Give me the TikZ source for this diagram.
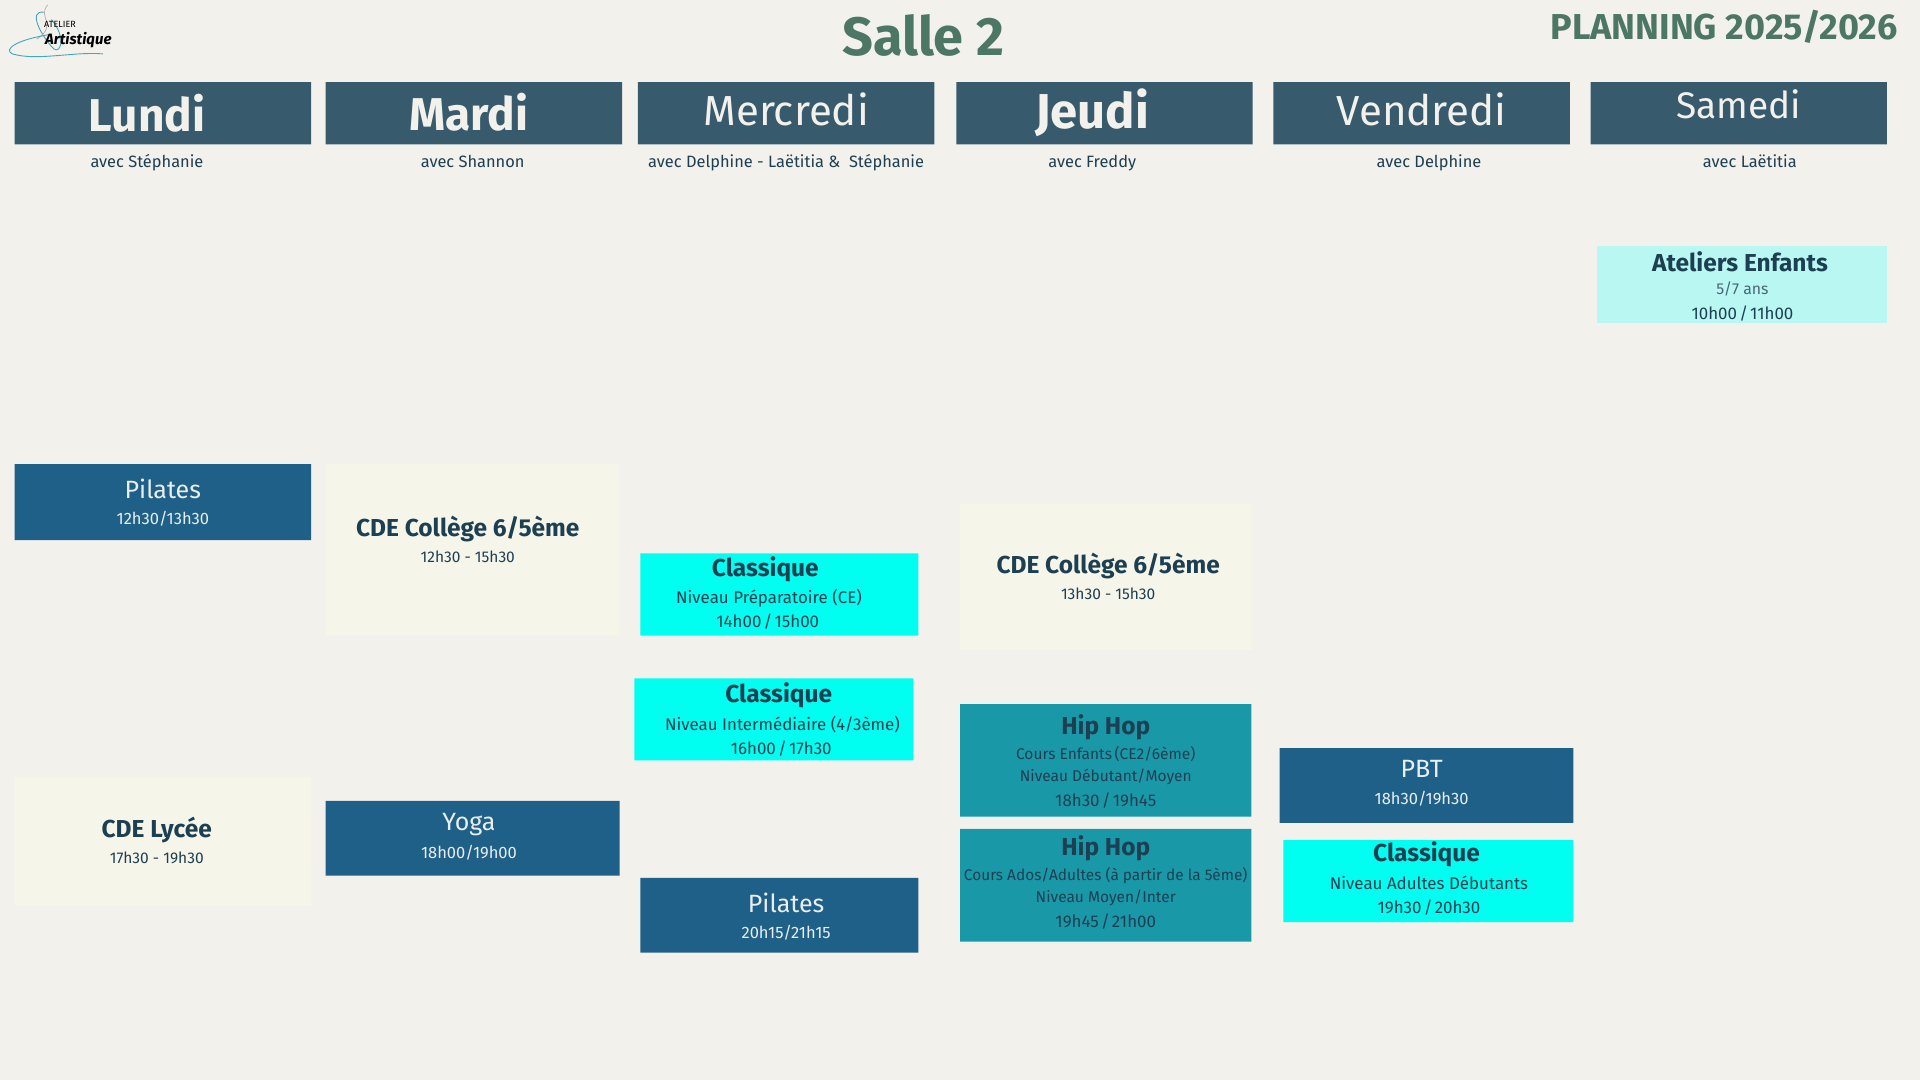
\documentclass[tikz,border=0pt]{standalone}
\usepackage{fontspec}
\setmainfont{Fira Sans}
\definecolor{bg}{HTML}{F3F1EC}
\definecolor{hdr}{HTML}{375B6D}
\definecolor{ttl}{HTML}{4D7765}
\definecolor{ink}{HTML}{1D3F52}
\definecolor{cream}{HTML}{F6F5EA}
\definecolor{navy}{HTML}{1F6089}
\definecolor{aqua}{HTML}{00FFF0}
\definecolor{teal}{HTML}{1998A8}
\definecolor{pale}{HTML}{B9F8F2}
\definecolor{txt}{HTML}{E9EEF0}
\definecolor{swirl}{HTML}{3FA9B8}
\newcommand{\fs}[1]{\fontsize{#1}{#1}\selectfont}
\newcommand{\sep}{\hspace{0.13em}/\hspace{0.13em}}
\tikzset{
 x=1.22449pt,y=-1.22449pt,
 boxfill/.style={fill=#1,draw=none},
 tx/.style={inner sep=0pt,anchor=center,text=ink},
 dayA/.style={tx,text=bg,font=\fs{46}\bfseries},
 dayB/.style={tx,text=bg,font=\fs{42}},
 avectx/.style={tx,font=\fs{16.4}},
 nametx/.style={tx,font=\fs{24.5}\bfseries},
 smalltx/.style={tx,font=\fs{16.9}},
 tinytx/.style={tx,font=\fs{15.5}},
 lighttx/.style={tx,text=txt,font=\fs{25}},
 lightsm/.style={tx,text=txt,font=\fs{16.5}},
}
\begin{document}
\begin{tikzpicture}
\useasboundingbox[fill=bg] (0,0) rectangle (1568,882);
% logo
\draw[swirl,line width=0.9pt] (36,10) .. controls (22,8) and (34,30) .. (44,40) .. controls (50,44) and (54,30) .. (42,16);
\draw[gray!70,line width=0.6pt] (39,4) .. controls (30,14) and (48,20) .. (30,32);
\draw[swirl,line width=0.9pt] (42,28) .. controls (15,32) and (2,40) .. (10,44) .. controls (30,50) and (60,42) .. (84,44);
\node[tx,text=black,font=\fs{9}] (logoA) at (49,20) {ATELIER};
\node[tx,text=black,font=\fs{15}\bfseries\itshape] (logoB) at (64,33) {Artistique};
% titles
\node[tx,text=ttl,font=\fs{54}\bfseries] (title) at (754,29) {Salle 2};
\node[tx,text=ttl,font=\fs{36}\bfseries] (plan) at (1408,22) {PLANNING 2025/2026};
% headers
\path[boxfill=hdr] (12,67) rectangle (254,118) (266,67) rectangle (508,118) (521,67) rectangle (763,118)
 (781,67) rectangle (1023,118) (1040,67) rectangle (1282,118) (1299,67) rectangle (1541,118);
\node[dayA] (lun) at (120,92.5) {Lundi};
\node[dayA] (mar) at (383,92) {Mardi};
\node[dayB] (mer) at (642,89) {Mercredi};
\node[tx,text=bg,font=\fs{49}\bfseries] (jeu) at (892,92) {Jeudi};
\node[dayB] (ven) at (1161,89) {Vendredi};
\node[tx,text=bg,font=\fs{37}] (sam) at (1420,85.5) {Samedi};
\node[avectx] (a1) at (120,133) {avec Stéphanie};
\node[avectx] (a2) at (386,132) {avec Shannon};
\node[avectx] (a3) at (642,133) {avec Delphine - Laëtitia \&\ \ Stéphanie};
\node[avectx] (a4) at (892,133) {avec Freddy};
\node[avectx] (a5) at (1167,133) {avec Delphine};
\node[avectx] (a6) at (1429,132) {avec Laëtitia};
% boxes
\path[boxfill=pale] (1304,201) rectangle (1541,264);
\path[boxfill=navy] (12,379) rectangle (254,441) (523,717) rectangle (750,778) (266,654) rectangle (506,715) (1045,611) rectangle (1285,672);
\path[boxfill=cream] (266,379) rectangle (506,519) (784,411) rectangle (1022,531) (12,634) rectangle (254,740);
\path[boxfill=aqua] (523,452) rectangle (750,519) (518,554) rectangle (746,621) (1048,686) rectangle (1285,753);
\path[boxfill=teal] (784,575) rectangle (1022,667) (784,677) rectangle (1022,769);
% Samedi
\node[nametx] (s1) at (1421,213.5) {Ateliers Enfants};
\node[tx,font=\fs{15.8},text=ink!80] (s2) at (1423,236) {5/7 ans};
\node[smalltx] (s3) at (1423,256) {10h00\sep 11h00};
% Lundi
\node[lighttx] (l1) at (133,399) {Pilates};
\node[lightsm] (l2) at (133,424) {12h30/13h30};
\node[nametx] (l3) at (128,678) {CDE Lycée};
\node[tx,font=\fs{15.5}] (l4) at (128,700.5) {17h30 - 19h30};
% Mardi
\node[nametx] (m1) at (382,432) {CDE Collège 6/5ème};
\node[tx,font=\fs{15.5}] (m2) at (382,454.5) {12h30 - 15h30};
\node[lighttx] (m3) at (383,673) {Yoga};
\node[lightsm] (m4) at (383,696) {18h00/19h00};
% Mercredi
\node[nametx] (e1) at (625,465) {Classique};
\node[smalltx] (e2) at (628,488.5) {Niveau Préparatoire (CE)};
\node[smalltx] (e3) at (627,508) {14h00\sep 15h00};
\node[nametx] (e4) at (636,568) {Classique};
\node[smalltx] (e5) at (639,591.5) {Niveau Intermédiaire (4/3ème)};
\node[smalltx] (e6) at (638,611) {16h00\sep 17h30};
\node[lighttx] (e7) at (642,737) {Pilates};
\node[lightsm] (e8) at (642,762) {20h15/21h15};
% Jeudi
\node[nametx] (j1) at (905,462) {CDE Collège 6/5ème};
\node[tx,font=\fs{15.5}] (j2) at (905,485) {13h30 - 15h30};
\node[nametx] (j3) at (903,594) {Hip Hop};
\node[tinytx] (j4) at (903,616) {Cours Enfants\,(CE2/6ème)};
\node[tinytx] (j5) at (903,634.5) {Niveau Débutant/Moyen};
\node[smalltx] (j6) at (903,653.5) {18h30\sep 19h45};
\node[nametx] (j7) at (903,693) {Hip Hop};
\node[tx,font=\fs{15.4}] (j8) at (903,715) {Cours Ados/Adultes (à partir de la 5ème)};
\node[tinytx] (j9) at (903,733.5) {Niveau Moyen/Inter};
\node[smalltx] (j10) at (903,752.5) {19h45\sep 21h00};
% Vendredi
\node[lighttx] (v1) at (1161,628) {PBT};
\node[lightsm] (v2) at (1161,652) {18h30/19h30};
\node[nametx] (v3) at (1165,698) {Classique};
\node[smalltx] (v4) at (1167,721) {Niveau Adultes Débutants};
\node[smalltx] (v5) at (1167,741) {19h30\sep 20h30};
\end{tikzpicture}
\end{document}
